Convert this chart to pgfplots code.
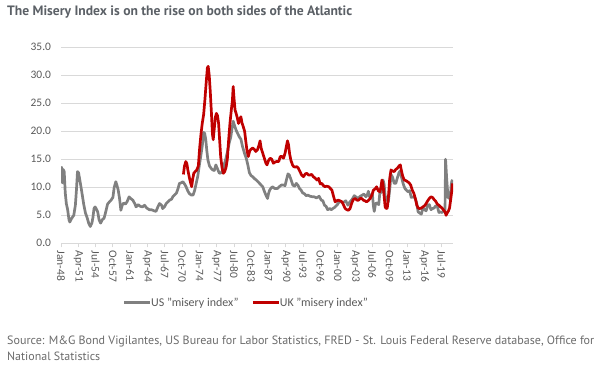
\documentclass[border=0pt]{standalone}
\usepackage{graphicx}
\usepackage{pgfplots}
\usepackage{pgfplotstable}
\pgfplotsset{compat=1.18}
\usepackage{fontspec}
\setmainfont{Carlito}
\newfontfamily\srcfont{PT Sans}
\definecolor{ukred}{HTML}{C00000}
\definecolor{usgray}{HTML}{808080}
\definecolor{gridc}{HTML}{D9D9D9}
\definecolor{labc}{HTML}{595959}
\definecolor{titc}{HTML}{5B6066}
\definecolor{srcc}{HTML}{6A6A6A}

\pgfplotstableread{
x y
1948.00 13.7
1948.15 13.4
1948.25 10.8
1948.40 13.2
1948.60 12.8
1948.80 9.0
1949.00 7.1
1949.25 6.0
1949.50 4.2
1949.65 3.8
1949.85 4.2
1950.10 4.6
1950.40 5.0
1950.70 6.8
1950.90 9.5
1951.10 12.8
1951.30 12.6
1951.50 11.5
1951.75 10.1
1952.00 8.6
1952.30 6.8
1952.60 5.4
1952.90 4.6
1953.20 3.6
1953.50 3.0
1953.80 3.6
1954.00 4.6
1954.20 6.2
1954.40 6.5
1954.60 6.2
1954.90 5.6
1955.15 4.2
1955.45 3.6
1955.75 4.2
1956.10 4.5
1956.40 5.6
1956.75 7.0
1957.10 7.4
1957.40 7.7
1957.75 8.2
1958.00 10.0
1958.30 11.0
1958.50 10.4
1958.75 9.5
1959.00 8.0
1959.25 5.9
1959.50 6.8
1959.80 7.2
1960.10 7.0
1960.40 7.4
1960.80 8.3
1961.10 8.0
1961.50 7.7
1961.90 7.0
1962.10 6.5
1962.50 6.9
1962.90 6.6
1963.30 6.5
1963.70 6.8
1964.10 6.3
1964.60 6.0
1965.00 6.0
1965.50 5.8
1965.85 5.7
1966.20 6.5
1966.50 7.1
1966.90 6.8
1967.10 6.2
1967.50 6.6
1967.75 7.1
1968.10 7.4
1968.40 7.7
1968.80 7.9
1969.00 8.3
1969.40 8.7
1969.70 9.0
1970.00 9.8
1970.25 10.7
1970.60 10.8
1970.90 11.0
1971.20 10.6
1971.50 10.1
1971.80 9.4
1972.10 8.9
1972.50 8.6
1972.80 8.6
1973.10 9.4
1973.40 10.7
1973.70 12.0
1974.00 14.0
1974.30 15.8
1974.55 17.5
1974.80 19.8
1975.00 19.6
1975.20 18.5
1975.40 16.5
1975.60 14.9
1975.90 13.8
1976.20 13.4
1976.50 13.1
1976.80 13.0
1977.10 14.0
1977.40 13.3
1977.75 12.5
1978.10 12.6
1978.40 13.1
1978.70 14.2
1979.00 15.2
1979.30 16.5
1979.60 17.9
1979.90 19.0
1980.10 20.3
1980.35 21.8
1980.55 21.2
1980.90 20.2
1981.20 19.6
1981.50 19.0
1981.80 18.6
1982.10 17.3
1982.50 16.0
1982.80 15.2
1983.10 14.0
1983.40 12.6
1983.70 12.1
1984.00 11.9
1984.40 11.5
1984.70 11.3
1985.00 11.0
1985.30 10.7
1985.60 10.4
1985.90 10.1
1986.20 9.3
1986.50 8.6
1986.80 8.0
1987.00 8.9
1987.20 9.5
1987.50 9.9
1987.80 10.1
1988.10 9.8
1988.40 9.8
1988.70 9.8
1989.00 10.1
1989.40 10.4
1989.80 10.4
1990.10 10.3
1990.40 11.5
1990.65 12.4
1990.90 12.2
1991.20 11.4
1991.55 10.4
1991.90 10.2
1992.20 10.7
1992.50 10.4
1992.80 9.8
1993.10 9.5
1993.40 9.0
1993.80 8.8
1994.05 8.5
1994.40 8.6
1994.80 8.4
1995.30 8.3
1995.60 8.3
1996.00 8.1
1996.50 8.4
1996.90 7.7
1997.20 7.6
1997.50 6.8
1997.80 6.6
1998.10 6.0
1998.50 6.2
1998.80 6.0
1999.05 6.2
1999.40 6.4
1999.80 6.8
2000.00 7.0
2000.30 7.5
2000.60 7.4
2000.90 7.3
2001.20 7.4
2001.50 7.6
2001.90 6.8
2002.20 7.3
2002.50 7.6
2002.80 8.0
2003.10 8.5
2003.40 8.3
2003.80 8.0
2004.20 8.4
2004.60 8.6
2004.90 8.8
2005.30 8.3
2005.60 8.8
2005.75 9.3
2005.95 8.3
2006.20 8.6
2006.50 8.8
2006.70 6.6
2006.85 5.7
2007.10 7.1
2007.40 7.2
2007.70 6.9
2007.90 9.0
2008.20 9.1
2008.50 11.3
2008.70 10.6
2008.90 8.5
2009.10 8.0
2009.50 7.4
2009.80 10.0
2010.00 12.3
2010.30 11.8
2010.60 10.7
2010.90 10.7
2011.20 11.7
2011.50 12.6
2011.70 12.9
2012.00 11.7
2012.30 10.6
2012.60 9.8
2012.90 9.5
2013.20 9.2
2013.50 9.4
2013.80 8.2
2014.20 8.3
2014.50 8.1
2014.80 7.3
2015.10 5.6
2015.40 5.4
2015.70 5.2
2016.00 6.3
2016.30 6.0
2016.60 5.8
2016.90 6.8
2017.20 6.9
2017.50 6.0
2017.80 6.2
2018.10 6.3
2018.40 6.7
2018.70 6.6
2019.00 5.5
2019.30 5.6
2019.60 5.5
2019.90 5.8
2020.15 5.9
2020.25 15.0
2020.35 13.4
2020.45 11.7
2020.60 9.7
2020.75 8.1
2020.95 8.1
2021.15 7.9
2021.30 10.3
2021.45 11.2
2021.55 11.0
}\ustable

\pgfplotstableread{
x y
1971.00 12.3
1971.20 13.8
1971.45 14.6
1971.65 14.2
1971.85 13.0
1972.10 11.8
1972.35 10.8
1972.55 10.1
1972.75 11.5
1972.95 12.5
1973.20 12.8
1973.50 13.1
1973.80 13.8
1974.05 17.0
1974.30 19.5
1974.55 21.5
1974.80 23.0
1975.05 25.8
1975.30 29.0
1975.50 31.3
1975.65 31.6
1975.85 30.0
1976.05 27.0
1976.25 23.5
1976.45 19.5
1976.60 18.5
1976.80 20.5
1977.00 22.5
1977.20 23.2
1977.40 22.8
1977.60 21.5
1977.80 18.5
1978.00 15.5
1978.25 13.5
1978.50 12.5
1978.75 12.8
1979.00 13.5
1979.25 15.0
1979.50 18.5
1979.75 21.5
1980.00 23.8
1980.20 25.5
1980.35 28.0
1980.50 26.0
1980.70 23.8
1980.90 23.2
1981.10 22.5
1981.35 21.4
1981.60 22.2
1981.80 22.6
1982.00 21.5
1982.25 20.8
1982.50 20.0
1982.75 18.0
1982.95 16.5
1983.20 15.5
1983.45 16.5
1983.70 16.8
1984.00 17.0
1984.30 16.8
1984.60 16.4
1984.90 16.7
1985.20 17.5
1985.40 18.3
1985.60 17.0
1985.90 16.1
1986.20 15.2
1986.50 14.3
1986.70 14.0
1987.00 14.8
1987.30 15.2
1987.60 15.0
1987.90 14.3
1988.20 14.5
1988.50 14.6
1988.90 14.6
1989.20 15.5
1989.50 15.5
1989.80 15.2
1990.10 16.1
1990.40 17.6
1990.55 18.3
1990.75 17.6
1990.95 16.0
1991.20 14.8
1991.50 14.0
1991.70 13.7
1992.00 13.6
1992.30 13.7
1992.60 13.4
1992.90 12.8
1993.20 12.2
1993.55 11.9
1993.90 12.4
1994.20 12.5
1994.50 12.2
1994.80 12.2
1995.10 12.3
1995.40 11.9
1995.80 11.6
1996.10 11.3
1996.40 11.6
1996.70 10.6
1997.00 10.7
1997.30 10.3
1997.60 10.1
1997.90 10.2
1998.30 10.1
1998.60 9.8
1998.90 9.5
1999.20 8.4
1999.50 7.4
1999.80 7.6
2000.10 7.7
2000.40 7.6
2000.80 7.4
2001.10 6.8
2001.40 6.2
2001.70 6.0
2002.00 5.9
2002.30 6.2
2002.60 7.1
2002.90 7.8
2003.30 8.0
2003.60 7.7
2003.90 7.7
2004.20 8.0
2004.50 8.0
2004.80 7.7
2005.10 7.6
2005.40 7.4
2005.70 7.6
2006.10 8.0
2006.40 8.6
2006.70 9.5
2007.00 9.7
2007.30 10.1
2007.60 9.4
2007.90 9.2
2008.10 10.0
2008.30 11.3
2008.50 10.5
2008.70 8.5
2008.90 6.5
2009.10 6.2
2009.30 6.3
2009.50 8.0
2009.75 11.5
2010.00 13.1
2010.30 12.9
2010.60 12.8
2010.90 13.2
2011.20 13.4
2011.50 13.8
2011.75 14.0
2011.95 13.0
2012.20 12.0
2012.50 11.3
2012.80 11.2
2013.10 11.0
2013.40 10.8
2013.70 10.4
2014.00 9.5
2014.30 8.9
2014.60 7.9
2014.85 6.8
2015.10 6.3
2015.40 6.2
2015.70 6.3
2016.00 6.5
2016.30 6.7
2016.60 7.1
2016.90 7.6
2017.20 8.0
2017.50 8.3
2017.80 8.2
2018.10 7.8
2018.40 7.5
2018.70 7.0
2019.00 6.8
2019.30 6.5
2019.60 6.3
2019.90 5.9
2020.15 5.6
2020.35 5.0
2020.55 5.4
2020.80 5.8
2021.00 6.3
2021.20 7.7
2021.40 9.2
2021.55 10.7
}\uktable

\begin{document}
\begin{tikzpicture}[x=1bp,y=1bp]
\path[use as bounding box] (0,0) rectangle (602,364);
\node[anchor=base west, inner sep=0, text=titc] at (7,348.5)
  {\resizebox{345bp}{!}{\srcfont\bfseries The Misery Index is on the rise on both sides of the Atlantic}};
\node[anchor=base west, inner sep=0, text=srcc] at (7,19.5)
  {\resizebox{587bp}{!}{\srcfont Source: M\&G Bond Vigilantes, US Bureau for Labor Statistics, FRED - St. Louis Federal Reserve database, Office for}};
\node[anchor=base west, inner sep=0, text=srcc] at (7,3.5)
  {\resizebox{93bp}{!}{\srcfont National Statistics}};
\begin{axis}[
  at={(61bp,120.7bp)}, anchor=south west,
  scale only axis, width=392bp, height=196bp,
  xmin=1948, xmax=2021.65, ymin=0, ymax=35,
  axis x line*=bottom, axis y line*=left,
  x axis line style={draw=gridc, line width=0.9bp, -},
  y axis line style={draw=none},
  ymajorgrids, grid style={draw=gridc, line width=0.9bp},
  ytick={0,5,10,15,20,25,30,35},
  yticklabels={0.0,5.0,10.0,15.0,20.0,25.0,30.0,35.0},
  xtick={1948,1951.25,1954.5,1957.75,1961,1964.25,1967.5,1970.75,1974,1977.25,1980.5,1983.75,1987,1990.25,1993.5,1996.75,2000,2003.25,2006.5,2009.75,2013,2016.25,2019.5},
  xticklabels={Jan-48,Apr-51,Jul-54,Oct-57,Jan-61,Apr-64,Jul-67,Oct-70,Jan-74,Apr-77,Jul-80,Oct-83,Jan-87,Apr-90,Jul-93,Oct-96,Jan-00,Apr-03,Jul-06,Oct-09,Jan-13,Apr-16,Jul-19},
  tick label style={font=\fontsize{11.5}{13}\selectfont, text=labc},
  xticklabel style={rotate=-90, anchor=west},
  yticklabel style={xshift=-6.5bp},
  xtick align=outside, major tick length=4bp,
  xtick style={draw=gridc, line width=0.9bp},
  ytick style={draw=none},
  legend style={at={(0.473,-0.303)}, anchor=center, draw=none, fill=none,
    font=\fontsize{12}{14}\selectfont, text=labc, legend columns=2,
    /tikz/every even column/.append style={column sep=11bp},
    /tikz/every odd column/.append style={column sep=-2.5bp}},
  legend image code/.code={\draw[#1, line width=2.8bp] (0bp,0bp) -- (26bp,0bp);},
  legend cell align=left,
]
\addplot[usgray, line width=2.7bp, line join=round] table {\ustable};
\addlegendentry{US "misery index"}
\addplot[ukred, line width=2.7bp, line join=round] table {\uktable};
\addlegendentry{UK "misery index"}
\end{axis}
\end{tikzpicture}
\end{document}
